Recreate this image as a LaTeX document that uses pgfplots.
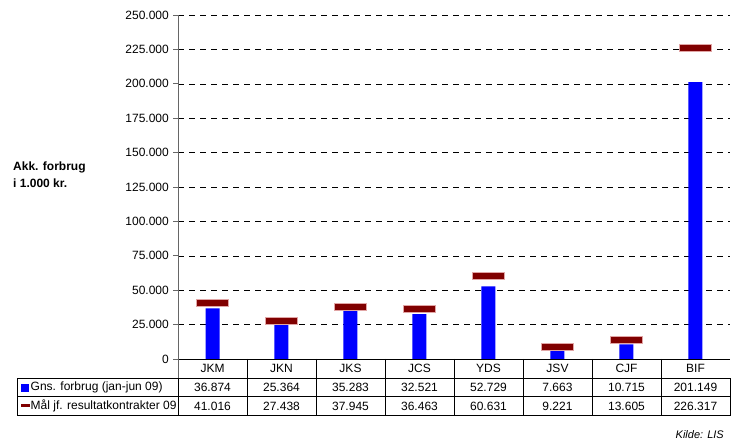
\documentclass[border=0pt]{standalone}
\usepackage{pgfplots}
\pgfplotsset{compat=1.18}
\usepackage{pgfplotstable}
\usepackage{fontspec}
\setmainfont{Liberation Sans}
\definecolor{barblue}{RGB}{0,0,255}
\definecolor{goalred}{RGB}{128,0,0}
\definecolor{goaledge}{RGB}{225,165,165}
\pgfdeclareplotmark{goal}{%
  \pgfpathrectangle{\pgfpoint{-16pt}{-3.5pt}}{\pgfpoint{32pt}{7pt}}%
  \pgfusepathqfillstroke}

\pgfplotstableread{
x cat gns maal
0 JKM 36874 41016
1 JKN 25364 27438
2 JKS 35283 37945
3 JCS 32521 36463
4 YDS 52729 60631
5 JSV 7663 9221
6 CJF 10715 13605
7 BIF 201149 226317
}\datatable

\begin{document}
\fontsize{12}{14}\selectfont
\begin{tikzpicture}[x=1pt,y=1pt]
\useasboundingbox (0,0) rectangle (740,444);
\begin{axis}[
  at={(178pt,85pt)}, anchor=south west,
  width=552pt, height=344pt, scale only axis,
  xmin=-0.5, xmax=7.5, ymin=0, ymax=250000,
  ytick={0,25000,50000,75000,100000,125000,150000,175000,200000,225000,250000},
  xtick=\empty,
  axis x line*=bottom, axis y line*=left,
  x axis line style={black, line width=0.7pt},
  y axis line style={gray!80!black, line width=0.9pt},
  ytick style={gray!80!black, line width=0.8pt},
  tick align=outside, major tick length=5pt,
  ymajorgrids,
  major grid style={black, dash pattern=on 6pt off 5pt, line width=0.5pt},
  scaled y ticks=false,
  /pgf/number format/fixed,
  /pgf/number format/assume math mode=true,
  /pgf/number format/1000 sep={.},
  tick label style={font=\fontsize{12}{14}\selectfont},
  clip=false,
]
\addplot[ybar, bar width=14pt, bar shift=0pt, fill=barblue, draw=none]
  table[x=x, y=gns]{\datatable};
\addplot[only marks, mark=goal, mark options={fill=goalred, draw=goaledge, line width=0.6pt}]
  table[x=x, y=maal]{\datatable};
\end{axis}

% data table under the axis
\draw[gray!80!black, line width=0.9pt] (178,85) -- (178,66);
\foreach \xx in {247,316,...,661} \draw[black, line width=0.6pt] (\xx,85) -- (\xx,66);
\draw[black, line width=0.6pt] (17,66) rectangle (730,29);
\draw[black, line width=0.6pt] (17,47.5) -- (730,47.5);
\foreach \xx in {178,247,...,661} \draw[black, line width=0.6pt] (\xx,66) -- (\xx,29);

\foreach \c [count=\i from 0] in {JKM,JKN,JKS,JCS,YDS,JSV,CJF,BIF}
  \node[inner sep=0] at ({212.5+69*\i},75.5) {\c};
\foreach \v [count=\i from 0] in {36.874,25.364,35.283,32.521,52.729,7.663,10.715,201.149}
  \node[inner sep=0] at ({212.5+69*\i},56.5) {\v};
\foreach \v [count=\i from 0] in {41.016,27.438,37.945,36.463,60.631,9.221,13.605,226.317}
  \node[inner sep=0] at ({212.5+69*\i},38) {\v};

\fill[barblue] (21,51.5) rectangle (29,59.5);
\node[anchor=west, inner sep=0] at (30.5,56.5) {Gns. forbrug (jan-jun 09)};
\fill[goalred] (20.5,37) rectangle (29.5,40);
\node[anchor=west, inner sep=0] at (30.5,38) {Mål jf. resultatkontrakter 09};

\node[anchor=west, align=left, inner sep=0, font=\bfseries\fontsize{12}{17.5}\selectfont] at (13,269.5) {Akk. forbrug\\i 1.000 kr.};
\node[anchor=east, inner sep=0, font=\itshape\fontsize{11}{13}\selectfont] at (724,9) {Kilde: LIS};
\end{tikzpicture}
\end{document}
